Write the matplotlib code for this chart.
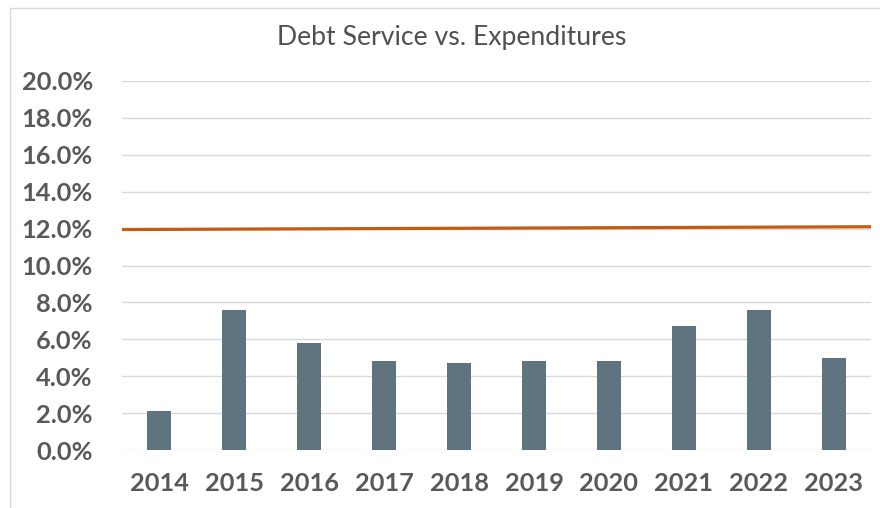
import matplotlib
matplotlib.use("Agg")
import matplotlib.pyplot as plt
from matplotlib.patches import Rectangle
from matplotlib.ticker import FuncFormatter, MultipleLocator

years = ["2014", "2015", "2016", "2017", "2018", "2019", "2020", "2021", "2022", "2023"]
debt_service_pct = [2.1, 7.6, 5.8, 4.85, 4.7, 4.8, 4.85, 6.7, 7.6, 5.0]
limit_pct = [11.95, 12.1]  # policy limit line, start and end of the range

TEXT = "#595959"
BAR = "#607480"
LIMIT = "#C55A11"
GRID = "#D9D9D9"

plt.rcParams["font.family"] = ["Lato", "DejaVu Sans"]

fig = plt.figure(figsize=(8.8, 5.08), dpi=100)
fig.patches.append(Rectangle((10 / 880, -0.1), 1.2, 1 - 8 / 508 + 0.1,
                             transform=fig.transFigure, fill=False,
                             edgecolor="#D9D9D9", linewidth=1.0))

ax = fig.add_axes([122 / 880, 58 / 508, 749 / 880, 369 / 508])
x = range(len(years))
ax.bar(x, debt_service_pct, width=0.32, color=BAR, zorder=3)
ax.set_xlim(-0.5, len(years) - 0.5)
ax.plot(ax.get_xlim(), limit_pct, color=LIMIT, linewidth=2.3,
        solid_capstyle="butt", zorder=4)

ax.set_ylim(0, 20)
ax.yaxis.set_major_locator(MultipleLocator(2))
ax.yaxis.set_major_formatter(FuncFormatter(lambda v, _: f"{v:.1f}%"))
ax.set_xticks(list(x))
ax.set_xticklabels(years)

ax.grid(axis="y", color=GRID, linewidth=1.0, zorder=0)
ax.set_axisbelow(True)
for s in ax.spines.values():
    s.set_visible(False)
ax.tick_params(axis="both", length=0, colors=TEXT, labelsize=18.3)
ax.tick_params(axis="y", pad=21)
ax.tick_params(axis="x", pad=16)
for lbl in ax.get_xticklabels() + ax.get_yticklabels():
    lbl.set_fontweight("bold")

fig.text(452 / 880, 1 - 38 / 508, "Debt Service vs. Expenditures", ha="center",
         va="center", fontsize=19.2, color="#505050")

fig.savefig("out.png", dpi=100)
